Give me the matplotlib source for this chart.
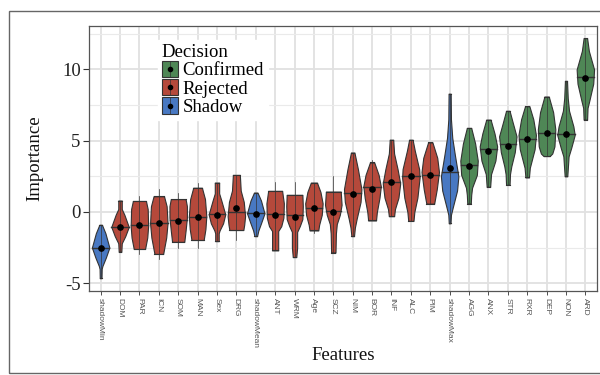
import numpy as np
import matplotlib
matplotlib.use("Agg")
import matplotlib.pyplot as plt
from matplotlib.patches import Rectangle, Patch
from matplotlib.lines import Line2D
from matplotlib.legend_handler import HandlerBase

# Boruta feature importance runs, ordered by median importance
features = ["shadowMin", "DOM", "PAR", "ICN", "SOM", "MAN", "Sex", "DRG",
            "shadowMean", "ANT", "WRM", "Age", "SCZ", "NIM", "BOR", "INF",
            "ALC", "PIM", "shadowMax", "AGG", "ANX", "STR", "RXR", "DEP",
            "NON", "ARD"]
decision = ["Shadow", "Rejected", "Rejected", "Rejected", "Rejected", "Rejected",
            "Rejected", "Rejected", "Shadow", "Rejected", "Rejected", "Rejected",
            "Rejected", "Rejected", "Rejected", "Rejected", "Rejected", "Rejected",
            "Shadow", "Confirmed", "Confirmed", "Confirmed", "Confirmed",
            "Confirmed", "Confirmed", "Confirmed"]
medians = [-2.50, -1.05, -0.92, -0.80, -0.60, -0.33, -0.15, 0.00, -0.10, -0.16,
           -0.23, 0.30, 0.10, 1.30, 1.78, 2.13, 2.49, 2.58, 2.82, 3.30, 4.45,
           4.77, 5.14, 5.51, 5.44, 9.45]
means = [-2.50, -1.05, -0.90, -0.80, -0.65, -0.33, -0.25, 0.26, -0.15, -0.25,
         -0.35, 0.30, -0.02, 1.28, 1.60, 2.13, 2.49, 2.58, 3.08, 3.24, 4.30,
         4.62, 5.10, 5.51, 5.44, 9.39]
range_lo = [-4.65, -2.80, -2.95, -3.30, -2.50, -2.50, -2.05, -2.00, -1.70, -2.70,
            -3.17, -1.45, -2.85, -1.70, -0.60, -0.30, -0.63, 0.58, -0.80, 0.58,
            1.76, 1.90, 2.42, 3.92, 2.50, 6.48]
range_hi = [-0.90, 0.80, 1.10, 1.60, 1.35, 2.00, 2.06, 2.60, 1.36, 2.10,
            2.10, 2.06, 2.50, 4.17, 3.66, 5.07, 5.07, 4.88, 8.30, 5.90,
            6.48, 7.10, 7.42, 8.10, 9.20, 12.20]
# density outline per feature: (importance, relative half-width)
profiles = [
    [(-0.9, 0.15), (-1.5, 0.55), (-2.5, 1.0), (-3.2, 0.6), (-3.8, 0.2), (-4.0, 0.12), (-4.65, 0.1)],
    [(0.8, 0.2), (0.2, 0.2), (-0.2, 0.5), (-1.05, 1.0), (-1.7, 0.6), (-2.2, 0.2), (-2.8, 0.15)],
    [(0.77, 0.75), (0.2, 0.95), (-1.0, 1.0), (-1.8, 0.9), (-2.6, 0.65)],
    [(1.1, 0.6), (0.4, 0.9), (-0.8, 1.0), (-1.8, 0.85), (-2.95, 0.5)],
    [(0.9, 0.85), (0.4, 1.0), (-0.4, 1.0), (-1.3, 0.85), (-2.1, 0.7)],
    [(1.7, 0.5), (0.9, 0.85), (-0.3, 1.0), (-1.2, 0.9), (-1.97, 0.7)],
    [(2.06, 0.25), (1.3, 0.25), (0.8, 0.5), (-0.17, 0.95), (-0.8, 0.7), (-1.3, 0.3), (-1.5, 0.2), (-2.05, 0.2)],
    [(2.6, 0.4), (1.5, 0.5), (0.7, 0.85), (-0.3, 1.0), (-0.9, 0.9), (-1.27, 0.8)],
    [(1.36, 0.2), (0.8, 0.6), (-0.1, 1.0), (-0.8, 0.6), (-1.3, 0.3), (-1.7, 0.15)],
    [(1.48, 0.8), (0.6, 1.0), (-0.4, 0.95), (-1.0, 0.7), (-1.34, 0.35), (-2.0, 0.35), (-2.7, 0.35)],
    [(1.2, 0.9), (0.4, 0.95), (-0.5, 0.9), (-1.0, 0.6), (-1.4, 0.3), (-2.5, 0.3), (-3.17, 0.2)],
    [(2.06, 0.35), (1.4, 0.75), (0.6, 1.0), (-0.2, 0.9), (-0.9, 0.6), (-1.3, 0.5)],
    [(1.43, 0.85), (0.5, 0.95), (-0.2, 0.75), (-0.85, 0.4), (-1.5, 0.3), (-2.85, 0.25)],
    [(4.17, 0.2), (3.0, 0.6), (1.6, 1.0), (0.7, 0.9), (-0.5, 0.45), (-1.1, 0.25), (-1.7, 0.15)],
    [(3.47, 0.25), (2.6, 0.75), (1.8, 1.0), (1.0, 0.85), (0.0, 0.55), (-0.6, 0.45)],
    [(5.07, 0.2), (4.1, 0.3), (3.0, 0.7), (2.0, 1.0), (1.0, 0.8), (0.2, 0.4), (-0.3, 0.3)],
    [(5.07, 0.2), (4.3, 0.45), (3.0, 0.95), (2.4, 1.0), (1.0, 0.75), (0.0, 0.4), (-0.63, 0.3)],
    [(4.88, 0.25), (3.8, 0.8), (2.8, 1.0), (1.6, 0.75), (0.58, 0.45)],
    [(8.3, 0.12), (6.5, 0.15), (5.2, 0.3), (4.0, 0.6), (2.5, 1.0), (1.5, 0.85), (0.3, 0.35), (-0.2, 0.15), (-0.8, 0.1)],
    [(5.9, 0.25), (4.8, 0.7), (3.6, 1.0), (2.6, 0.9), (1.7, 0.35), (1.2, 0.25), (0.58, 0.2)],
    [(6.48, 0.25), (5.5, 0.7), (4.6, 1.0), (3.6, 0.8), (2.65, 0.3), (1.76, 0.2)],
    [(7.1, 0.2), (6.3, 0.55), (5.3, 1.0), (4.2, 0.8), (3.2, 0.4), (2.65, 0.25), (1.9, 0.2)],
    [(7.42, 0.25), (6.5, 0.7), (5.4, 1.0), (4.4, 0.85), (3.1, 0.3), (2.42, 0.2)],
    [(8.1, 0.25), (7.0, 0.75), (5.8, 1.0), (4.6, 0.9), (4.1, 0.65), (3.92, 0.35)],
    [(9.2, 0.12), (8.0, 0.2), (7.1, 0.35), (6.0, 0.85), (5.4, 1.0), (4.5, 0.6), (3.9, 0.3), (2.5, 0.15)],
    [(12.2, 0.2), (11.3, 0.4), (10.0, 1.0), (9.0, 0.9), (7.8, 0.45), (7.3, 0.25), (6.48, 0.2)],
]
legend_order = ["Confirmed", "Rejected", "Shadow"]
palette = {"Confirmed": "#4f8756", "Rejected": "#b5493b", "Shadow": "#4878c2"}
yticks = [-5, 0, 5, 10]

SERIF = "Liberation Serif"
EDGE = "#333333"
HALF = 0.45

fig = plt.figure(figsize=(6, 3.75), dpi=100)
fig.patch.set_facecolor("white")
ax = fig.add_axes([89 / 600, 1 - 291 / 375, 508 / 600, 265 / 375])

# outer frame around the figure
fig.add_artist(Rectangle((9 / 600, 2 / 375), 1.2, 362 / 375, transform=fig.transFigure,
                         fill=False, edgecolor="#666666", lw=1.0, clip_on=False))

for i, feat in enumerate(features):
    ys = np.array([p[0] for p in profiles[i]])[::-1]
    ws = np.array([p[1] for p in profiles[i]])[::-1]
    grid = np.linspace(ys[0], ys[-1], 200)
    hw = np.interp(grid, ys, ws) * HALF
    col = palette[decision[i]]
    ax.fill_betweenx(grid, i - hw, i + hw, facecolor=col, edgecolor=EDGE,
                     lw=0.8, zorder=3)
    ax.plot([i - hw[0], i + hw[0]], [grid[0]] * 2, color=EDGE, lw=0.8, zorder=3)
    ax.plot([i - hw[-1], i + hw[-1]], [grid[-1]] * 2, color=EDGE, lw=0.8, zorder=3)
    ax.plot([i, i], [range_lo[i], range_hi[i]], color=EDGE, lw=0.5, zorder=4)
    mw = np.interp(medians[i], ys, ws) * HALF
    ax.plot([i - mw, i + mw], [medians[i]] * 2, color=EDGE, lw=1.0, zorder=4)
    ax.plot(i, means[i], "o", color="black", ms=3.8, zorder=5)

ax.set_xlim(-0.6, len(features) - 0.4)
ax.set_ylim(-5.55, 13.05)
ax.set_xticks(range(len(features)))
ax.set_xticklabels(features, rotation=-90, fontsize=6, color="#555555",
                   family="Liberation Sans", va="top", ha="center")
ax.set_yticks(yticks)
ax.set_yticklabels([str(t) for t in yticks], fontsize=13.5, family=SERIF, color="#222222")
ax.set_yticks([-2.5, 2.5, 7.5, 12.5], minor=True)
ax.tick_params(axis="y", which="major", length=4, width=0.8, color="#333333", pad=2)
ax.tick_params(axis="y", which="minor", length=0)
ax.tick_params(axis="x", length=3, width=0.6, color="#333333", pad=2)

ax.grid(True, which="major", color="#e1e1e1", lw=1.3, zorder=0)
ax.grid(True, which="minor", axis="y", color="#eaeaea", lw=0.8, zorder=0)
ax.set_axisbelow(True)
for s in ax.spines.values():
    s.set_color("#555555")
    s.set_linewidth(0.9)

ax.set_xlabel("Features", family=SERIF, fontsize=13.5, color="#111111")
ax.xaxis.set_label_coords(0.5, -0.245)
ax.xaxis.label.set_va("center")
ax.set_ylabel("Importance", family=SERIF, fontsize=13.5, color="#111111")
ax.yaxis.set_label_coords(-0.106, 0.5)
ax.yaxis.label.set_va("center")


class ViolinKey(HandlerBase):
    def create_artists(self, legend, orig_handle, xdescent, ydescent, width,
                       height, fontsize, trans):
        x0, y0 = -xdescent, -ydescent
        rect = Rectangle((x0, y0), width, height, facecolor=orig_handle.get_facecolor(),
                         edgecolor=EDGE, lw=0.8, transform=trans)
        vline = Line2D([x0 + width / 2] * 2, [y0, y0 + height], color=EDGE, lw=0.5,
                       transform=trans)
        dot = Line2D([x0 + width / 2], [y0 + height / 2], marker="o", ms=3,
                     color="black", transform=trans)
        return [rect, vline, dot]


handles = [Patch(facecolor=palette[k]) for k in legend_order]
leg = ax.legend(handles, legend_order, title="Decision", loc="upper left",
                bbox_to_anchor=(158 / 600, 1 - 40 / 375), bbox_transform=fig.transFigure,
                handler_map={Patch: ViolinKey()}, prop={"family": SERIF, "size": 13.5},
                title_fontproperties={"family": SERIF, "size": 13.5},
                handlelength=0.85, handleheight=0.95, handletextpad=0.27,
                labelspacing=-0.01, borderpad=0.2, borderaxespad=0, frameon=True,
                fancybox=False, framealpha=1, edgecolor="white", facecolor="white")
leg._legend_box.align = "left"
leg._legend_box.sep = 0
leg.set_zorder(6)

fig.savefig("out.png", dpi=100)
